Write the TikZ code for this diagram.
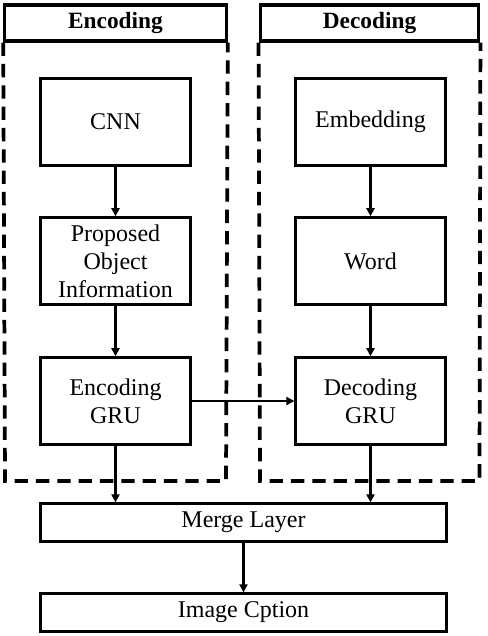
\documentclass[tikz,border=0pt]{standalone}
\usepackage{fontspec}
\setmainfont{Liberation Serif}
\usetikzlibrary{arrows.meta}
\begin{document}
\begin{tikzpicture}[x=0.75pt, y=-0.75pt,
	block/.style={draw, line width=2.2pt, minimum width=112pt, minimum height=65pt, inner sep=0pt, align=center, font=\fontsize{18}{21}\selectfont},
	wide/.style={block, minimum width=304pt, minimum height=28pt},
	header/.style={draw, line width=2.4pt, minimum height=27pt, inner sep=0pt, font=\fontsize{17.5}{21}\selectfont\bfseries},
	panel/.style={line width=2.8pt, dash pattern=on 10pt off 6pt},
	flow/.style={line width=1.8pt, -{Triangle[length=6pt, width=6pt]}}]
	\useasboundingbox (0,0) rectangle (488,636);
	% encoding side
	\node[header, minimum width=166pt] at (115.5,23) (enchead) {Encoding};
	\draw[panel] (enchead.south west) -- (5,481) -- (226,481) -- (enchead.south east);
	\node[block] at (115.5,122) (cnn) {CNN};
	\node[block] at (115.5,261) (object) {Proposed\\Object\\Information};
	\node[block] at (115.5,401) (encgru) {Encoding\\GRU};
	% decoding side
	\node[header, minimum width=164pt] at (369.5,23) (dechead) {Decoding};
	\draw[panel] (dechead.south west) -- (260,481) -- (479.5,481) -- (dechead.south east);
	\node[block] at (370.5,122) (embed) {Embedding};
	\node[block] at (370.5,261) (word) {Word};
	\node[block] at (370.5,401) (decgru) {Decoding\\GRU};
	% output
	\node[wide] at (243.5,522.5) (merge) {Merge Layer};
	\node[wide] at (243.5,612.5) (caption) {Image Cption};
	\draw[flow] (cnn) -- (object);
	\draw[flow] (object) -- (encgru);
	\draw[flow] (embed) -- (word);
	\draw[flow] (word) -- (decgru);
	\draw[flow] (encgru) -- (decgru);
	\draw[flow] (encgru) -- (encgru |- merge.north);
	\draw[flow] (decgru) -- (decgru |- merge.north);
	\draw[flow] (merge) -- (caption);
\end{tikzpicture}
\end{document}
